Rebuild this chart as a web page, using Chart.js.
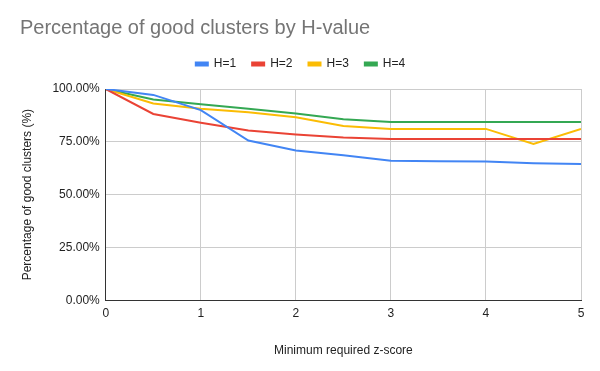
<!DOCTYPE html>
<html>
<head>
<meta charset="utf-8">
<script src="https://cdn.jsdelivr.net/npm/chart.js@4/dist/chart.umd.min.js"></script>
<style>
  html, body { margin: 0; padding: 0; background: #fff; }
  #wrap { width: 600px; height: 371px; }
</style>
</head>
<body>
<div id="wrap"><canvas id="chart"></canvas></div>
<script>
// z-score thresholds on the x axis
const zScores = [0, 0.5, 1, 1.5, 2, 2.5, 3, 3.5, 4, 4.5, 5];

// percentage of good clusters per H-value
const h1 = [100, 97.2, 90.0, 75.6, 70.9, 68.6, 66.0, 65.8, 65.7, 64.9, 64.5];
const h2 = [100, 88.2, 84.0, 80.3, 78.5, 77.0, 76.3, 76.3, 76.3, 76.3, 76.3];
const h3 = [100, 93.1, 90.7, 89.0, 86.6, 82.5, 81.1, 81.1, 81.1, 74.0, 81.1];
const h4 = [100, 95.0, 92.8, 90.6, 88.4, 85.7, 84.4, 84.4, 84.4, 84.4, 84.4];

const seriesNames = ['H=1', 'H=2', 'H=3', 'H=4'];
const seriesColors = ['#4285f4', '#ea4335', '#fbbc04', '#34a853'];
const yTicks = [0, 25, 50, 75, 100];

const fontFamily = "Arial, 'Liberation Sans', sans-serif";

function toPoints(values) {
  return values.map((v, i) => ({ x: zScores[i], y: v }));
}

const datasets = [h1, h2, h3, h4].map((values, i) => ({
  label: seriesNames[i],
  data: toPoints(values),
  borderColor: seriesColors[i],
  backgroundColor: seriesColors[i],
  borderWidth: 2,
  pointRadius: 0,
  tension: 0,
  fill: false
}));

// extra room between the legend and the plot area
const legendMargin = {
  id: 'legendMargin',
  beforeInit(chart) {
    const fit = chart.legend.fit;
    chart.legend.fit = function() {
      fit.bind(chart.legend)();
      this.height += 9;
    };
  }
};

new Chart(document.getElementById('chart'), {
  type: 'line',
  data: { datasets: datasets },
  plugins: [legendMargin],
  options: {
    responsive: true,
    maintainAspectRatio: false,
    animation: false,
    layout: { padding: { left: 20, right: 19, top: 12, bottom: 9 } },
    plugins: {
      title: {
        display: true,
        text: 'Percentage of good clusters by H-value',
        align: 'start',
        color: '#757575',
        font: { family: fontFamily, size: 20, weight: 'normal' },
        padding: { top: 4, bottom: 2 }
      },
      legend: {
        position: 'top',
        labels: {
          color: '#222',
          boxWidth: 12,
          boxHeight: 3,
          padding: 16,
          font: { family: fontFamily, size: 12 }
        }
      },
      tooltip: { enabled: false }
    },
    scales: {
      x: {
        type: 'linear',
        min: 0,
        max: 5,
        ticks: {
          stepSize: 1,
          color: '#222',
          padding: 6,
          font: { family: fontFamily, size: 12 }
        },
        grid: { color: '#cccccc', drawTicks: false },
        border: { color: '#333', width: 1 },
        title: {
          display: true,
          text: 'Minimum required z-score',
          color: '#222',
          font: { family: fontFamily, size: 12 },
          padding: { top: 17 }
        }
      },
      y: {
        min: 0,
        max: 100,
        afterBuildTicks: function(scale) {
          scale.ticks = yTicks.map(v => ({ value: v }));
        },
        ticks: {
          color: '#222',
          padding: 6,
          font: { family: fontFamily, size: 12 },
          callback: function(value) {
            return value.toFixed(2) + '%';
          }
        },
        grid: { color: '#cccccc', drawTicks: false },
        border: { color: '#333', width: 1 },
        title: {
          display: true,
          text: 'Percentage of good clusters (%)',
          color: '#222',
          font: { family: fontFamily, size: 12 },
          padding: { top: 0, bottom: 12 }
        }
      }
    }
  }
});
</script>
</body>
</html>
